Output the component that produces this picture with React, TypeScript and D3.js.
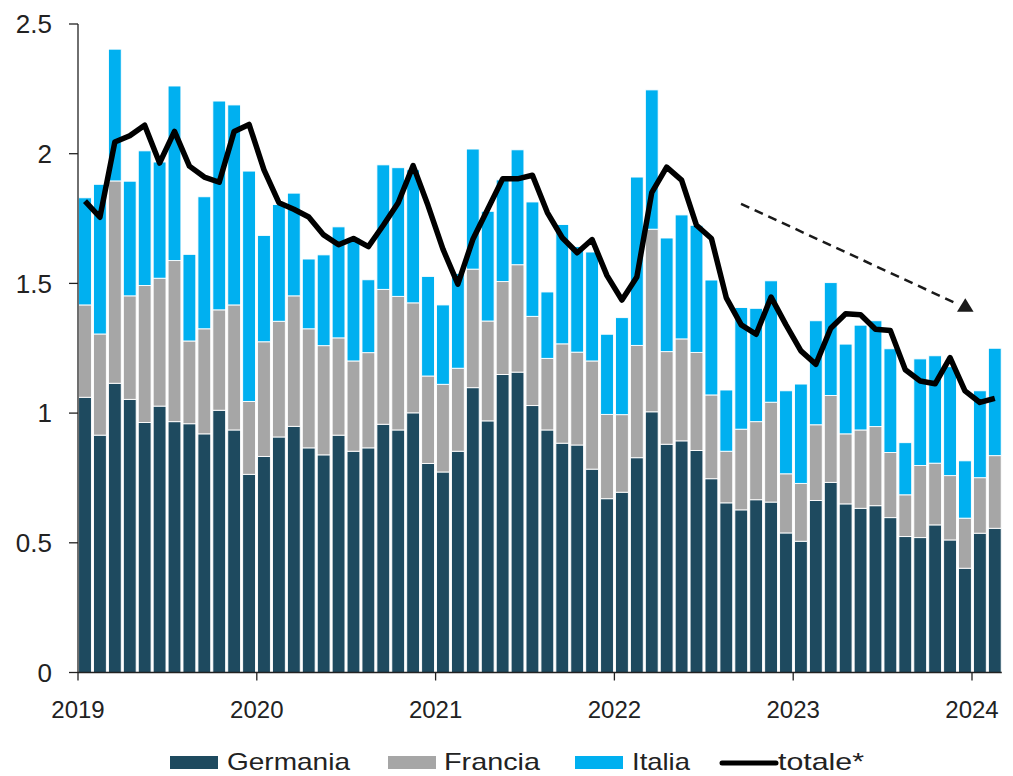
import React from "react";
import * as d3 from "d3";

const germania = [1.061,0.915,1.115,1.053,0.964,1.027,0.967,0.959,0.920,1.011,0.935,0.764,
0.833,0.908,0.949,0.866,0.839,0.915,0.853,0.866,0.957,0.935,1.001,0.806,
0.773,0.853,1.098,0.970,1.149,1.158,1.029,0.935,0.884,0.877,0.784,0.670,
0.695,0.828,1.005,0.880,0.893,0.856,0.747,0.654,0.627,0.666,0.657,0.538,
0.506,0.663,0.733,0.650,0.633,0.643,0.597,0.524,0.520,0.569,0.511,0.402,
0.537,0.556];
const francia = [0.356,0.390,0.780,0.399,0.528,0.493,0.621,0.319,0.405,0.387,0.482,0.281,
0.442,0.446,0.503,0.459,0.421,0.375,0.348,0.367,0.520,0.515,0.424,0.337,
0.338,0.320,0.457,0.385,0.358,0.414,0.344,0.276,0.383,0.358,0.417,0.325,
0.299,0.433,0.704,0.357,0.393,0.378,0.323,0.199,0.311,0.301,0.385,0.228,
0.223,0.292,0.335,0.270,0.302,0.305,0.251,0.161,0.278,0.238,0.248,0.193,
0.214,0.280];
const italia = [0.413,0.577,0.508,0.442,0.519,0.448,0.673,0.334,0.509,0.805,0.771,0.888,
0.410,0.450,0.396,0.269,0.350,0.428,0.475,0.281,0.480,0.496,0.513,0.384,
0.306,0.365,0.463,0.423,0.392,0.443,0.441,0.256,0.460,0.407,0.420,0.309,
0.374,0.649,0.537,0.438,0.478,0.490,0.443,0.236,0.469,0.437,0.468,0.320,
0.383,0.401,0.435,0.346,0.404,0.408,0.400,0.201,0.411,0.414,0.420,0.221,
0.335,0.414];
const totale = [1.817,1.755,2.045,2.069,2.110,1.964,2.086,1.952,1.910,1.890,2.086,2.113,
1.938,1.811,1.786,1.756,1.687,1.649,1.673,1.642,1.724,1.811,1.954,1.800,
1.632,1.497,1.669,1.786,1.903,1.903,1.917,1.773,1.676,1.618,1.669,1.530,
1.436,1.525,1.850,1.948,1.898,1.724,1.673,1.444,1.340,1.304,1.447,1.340,
1.240,1.188,1.327,1.383,1.379,1.323,1.318,1.167,1.124,1.113,1.214,1.086,
1.041,1.057];
const yearLabels = ["2019","2020","2021","2022","2023","2024"];
const yTicks = [0, 0.5, 1, 1.5, 2, 2.5];
const seriesNames = ["Germania", "Francia", "Italia"];
const colors = ["#1E4A5F", "#A6A6A6", "#00B0F0"];

export default function App() {
  const W = 1013, H = 776;
  const n = germania.length;
  const left = 78, step = 14.9;
  const x = d3.scaleBand<number>().domain(d3.range(n)).range([left, left + n * step]).paddingInner(0.14).paddingOuter(0.04);
  const xl = d3.scaleLinear().domain([0, n]).range([left, left + n * step]);
  const y = d3.scaleLinear().domain([0, 2.5]).range([672.5, 24]);
  const rows = d3.range(n).map(i => ({ i, Germania: germania[i], Francia: francia[i], Italia: italia[i] }));
  const stacked = d3.stack<any>().keys(seriesNames)(rows);
  const line = d3.line<number>().x((d, i) => (x(i) as number) + x.bandwidth() / 2).y(d => y(d));
  const font = "'Liberation Sans', Arial, sans-serif";
  const arrowStart = { i: 44.5, v: 1.807 };
  const arrowEnd = { i: 58.86, v: 1.425 };
  const headC = { i: 59.55, v: 1.391 };
  const hx = xl(headC.i), hy = y(headC.v);
  const legend = [
    { name: "Germania", type: "rect", c: colors[0], sx: 170, tx: 227, len: 123 },
    { name: "Francia", type: "rect", c: colors[1], sx: 388, tx: 444, len: 96 },
    { name: "Italia", type: "rect", c: colors[2], sx: 575, tx: 632, len: 58 },
    { name: "totale*", type: "line", c: "#000", sx: 722, tx: 778, len: 86 },
  ];
  return (
    <svg width={W} height={H} style={{ position: "absolute", left: 0, top: 0 }} fontFamily={font}>
      <rect width={W} height={H} fill="#fff" />
      {stacked.map((s, si) => (
        <g key={si} fill={colors[si]}>
          {s.map((d, i) => (
            <rect key={i} x={x(i)} width={x.bandwidth()} y={y(d[1])} height={y(d[0]) - y(d[1])}
              stroke="#fff" strokeWidth={0.9} />
          ))}
        </g>
      ))}
      <path d={line(totale) || ""} fill="none" stroke="#000" strokeWidth={5.5} strokeLinejoin="round" />
      {/* arrow */}
      <line x1={xl(arrowStart.i)} y1={y(arrowStart.v)} x2={xl(arrowEnd.i)} y2={y(arrowEnd.v)}
        stroke="#1a1a1a" strokeWidth={2.5} strokeDasharray="9 6" />
      <path d={`M${hx},${hy - 13.5}L${hx + 8.3},${hy}L${hx - 8.3},${hy}Z`} fill="#1a1a1a" />
      {/* y axis */}
      <line x1={left} x2={left} y1={y(2.5)} y2={y(0)} stroke="#222" strokeWidth={1.3} />
      {yTicks.map(t => (
        <g key={t}>
          <line x1={left - 9} x2={left} y1={y(t)} y2={y(t)} stroke="#222" strokeWidth={1.3} />
          <text x={52} y={y(t)} dy="0.36em" textAnchor="end" fontSize={26} fill="#222">{t}</text>
        </g>
      ))}
      {/* x axis */}
      <line x1={left} x2={xl(n)} y1={y(0)} y2={y(0)} stroke="#222" strokeWidth={1.3} />
      {yearLabels.map((lab, k) => (
        <g key={lab}>
          <line x1={xl(k * 12)} x2={xl(k * 12)} y1={y(0)} y2={y(0) + 8} stroke="#222" strokeWidth={1.3} />
          <text x={xl(k * 12)} y={718} textAnchor="middle" fontSize={24} fill="#222">{lab}</text>
        </g>
      ))}
      {/* legend */}
      {legend.map(l => (
        <g key={l.name}>
          {l.type === "rect"
            ? <rect x={l.sx} y={756} width={48} height={13} fill={l.c} />
            : <line x1={l.sx} x2={l.sx + 54} y1={763} y2={763} stroke="#000" strokeWidth={5} strokeLinecap="round" />}
          <text x={l.tx} y={770} fontSize={24} fill="#222" textLength={l.len} lengthAdjust="spacingAndGlyphs">{l.name}</text>
        </g>
      ))}
    </svg>
  );
}
